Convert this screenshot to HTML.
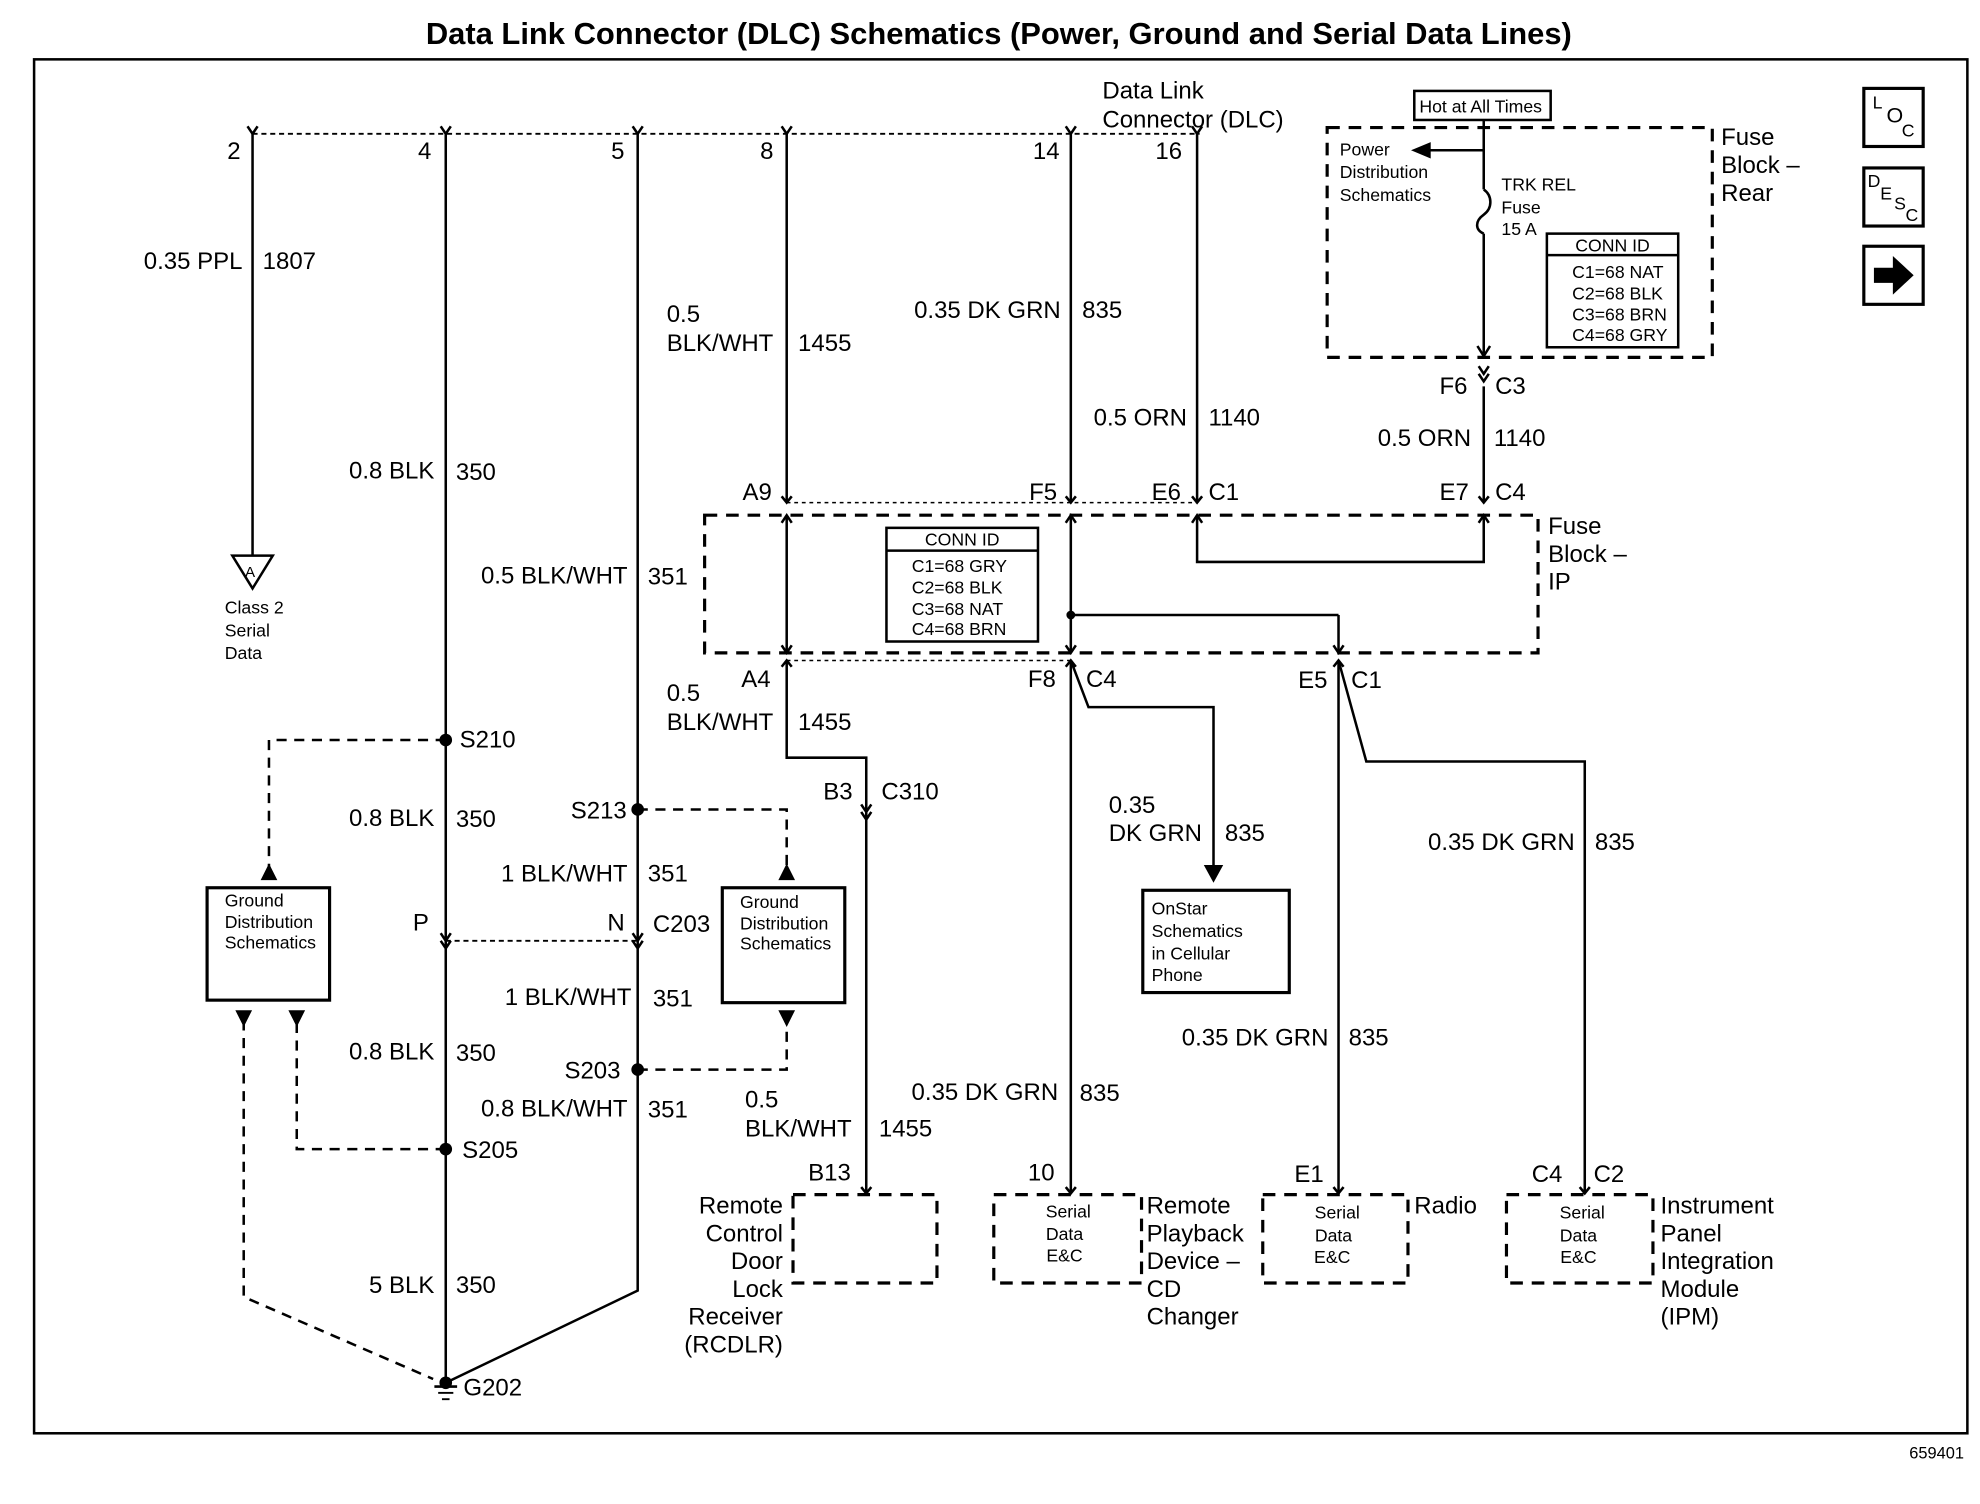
<!DOCTYPE html>
<html><head><meta charset="utf-8"><style>
html,body{margin:0;padding:0;background:#fff}
svg{display:block}
text{font-family:"Liberation Sans",Arial,sans-serif;fill:#000}
.l{font-size:19px}
.s{font-size:13px}
.m{font-size:14px}
</style></head><body>
<svg width="1980" height="1504" viewBox="0 0 1568 1191" preserveAspectRatio="none" xmlns="http://www.w3.org/2000/svg">
<g stroke="#000" fill="none" stroke-width="2">
<rect x="27" y="47" width="1531" height="1088" stroke-width="2"/>
<line x1="200" y1="106" x2="950" y2="106" stroke-dasharray="4,3" stroke-width="1.5"/>
<path d="M196 100 L200 106 L204 100 M349 100 L353 106 L357 100 M501 100 L505 106 L509 100 M619 100 L623 106 L627 100 M844 100 L848 106 L852 100 M944 100 L948 106 L952 100"/>
<line x1="200" y1="106" x2="200" y2="440"/>
<path d="M184 440 L216 440 L200 466 Z"/>
<line x1="353" y1="106" x2="353" y2="1095"/>
<polyline points="505,106 505,1022 353,1095"/>
<line x1="353" y1="745" x2="505" y2="745" stroke-dasharray="4,3" stroke-width="1.5"/>
<path d="M349 739 L353 745 L357 739 M349 745 L353 751 L357 745 M501 739 L505 745 L509 739 M501 745 L505 751 L509 745"/>
<line x1="623" y1="106" x2="623" y2="398"/>
<line x1="623" y1="408" x2="623" y2="517"/>
<path d="M619 414 L623 408 L627 414 M619 511 L623 517 L627 511"/>
<polyline points="623,523 623,600 686,600 686,945"/>
<path d="M682 637 L686 643 L690 637 M682 643 L686 649 L690 643"/>
<path d="M619 528 L623 523 L627 528"/>
<line x1="623" y1="398" x2="948" y2="398" stroke-dasharray="3,3" stroke-width="1.2"/>
<line x1="623" y1="523" x2="848" y2="523" stroke-dasharray="3,3" stroke-width="1.2"/>
<path d="M619 393 L623 398 L627 393 M844 393 L848 398 L852 393 M944 393 L948 398 L952 393 M1171 393 L1175 398 L1179 393"/>
<line x1="848" y1="106" x2="848" y2="398"/>
<line x1="848" y1="408" x2="848" y2="517"/>
<path d="M844 414 L848 408 L852 414 M844 511 L848 517 L852 511"/>
<line x1="848" y1="487" x2="1060" y2="487"/>
<line x1="1060" y1="487" x2="1060" y2="517"/>
<path d="M1056 511 L1060 517 L1064 511"/>
<circle cx="848" cy="487" r="2.5" fill="#000"/>
<path d="M844 528 L848 523 L852 528 M1056 528 L1060 523 L1064 528"/>
<line x1="848" y1="523" x2="848" y2="945"/>
<polyline points="848,523 862,560 961,560 961,690"/>
<path d="M955 686 L961 697 L967 686 Z" fill="#000"/>
<line x1="1060" y1="523" x2="1060" y2="945"/>
<polyline points="1060,523 1082,603 1255,603 1255,945"/>
<line x1="948" y1="106" x2="948" y2="398"/>
<polyline points="944,414 948,408 952,414"/>
<polyline points="948,408 948,445 1175,445 1175,408"/>
<polyline points="1171,414 1175,408 1179,414"/>
<line x1="1175" y1="306" x2="1175" y2="398"/>
<path d="M1171 290 L1175 296 L1179 290 M1171 296 L1175 302 L1179 296"/>
<rect x="558" y="408" width="660" height="109" stroke-dasharray="10,7" stroke-width="2.5"/>
<rect x="702" y="418" width="120" height="90"/>
<line x1="702" y1="436" x2="822" y2="436"/>
<rect x="1051" y="101" width="305" height="182" stroke-dasharray="10,7" stroke-width="2.5"/>
<rect x="1120" y="72" width="108" height="23"/>
<polyline points="1175,95 1175,150"/>
<line x1="1175" y1="119" x2="1128" y2="119"/>
<path d="M1120 119 L1132 114 L1132 124 Z" fill="#000"/>
<path d="M1175 150 C1182 155 1182 165 1175 170 C1168 175 1168 182 1175 185"/>
<line x1="1175" y1="185" x2="1175" y2="280"/>
<path d="M1170 274 L1175 282 L1180 274"/>
<rect x="1225" y="185" width="104" height="90"/>
<line x1="1225" y1="202" x2="1329" y2="202"/>
<rect x="1476" y="70" width="47" height="46" stroke-width="2.5"/>
<rect x="1476" y="133" width="47" height="46" stroke-width="2.5"/>
<rect x="1476" y="195" width="47" height="46" stroke-width="2.5"/>
<path d="M1485 213 L1500 213 L1500 205 L1514 218 L1500 231 L1500 223 L1485 223 Z" fill="#000"/>
<polyline points="353,586 213,586 213,690" stroke-dasharray="8,6"/>
<path d="M208 696 L213 686 L218 696 Z" fill="#000"/>
<polyline points="505,641 623,641 623,690" stroke-dasharray="8,6"/>
<path d="M618 696 L623 686 L628 696 Z" fill="#000"/>
<polyline points="505,847 623,847 623,805" stroke-dasharray="8,6"/>
<path d="M618 801 L623 811 L628 801 Z" fill="#000"/>
<polyline points="353,910 235,910 235,808" stroke-dasharray="8,6"/>
<path d="M230 801 L235 811 L240 801 Z" fill="#000"/>
<polyline points="193,808 193,1027 343,1092" stroke-dasharray="8,6"/>
<path d="M188 801 L193 811 L198 801 Z" fill="#000"/>
<rect x="164" y="703" width="97" height="89" stroke-width="2.5"/>
<rect x="572" y="703" width="97" height="91" stroke-width="2.5"/>
<rect x="905" y="705" width="116" height="81" stroke-width="2.5"/>
<line x1="344" y1="1098" x2="362" y2="1098"/>
<line x1="347" y1="1103" x2="359" y2="1103" stroke-width="1.5"/>
<line x1="350" y1="1108" x2="356" y2="1108" stroke-width="1.5"/>
<rect x="628" y="946" width="114" height="70" stroke-dasharray="10,7" stroke-width="2.5"/>
<rect x="787" y="946" width="117" height="70" stroke-dasharray="10,7" stroke-width="2.5"/>
<rect x="1000" y="946" width="115" height="70" stroke-dasharray="10,7" stroke-width="2.5"/>
<rect x="1193" y="946" width="116" height="70" stroke-dasharray="10,7" stroke-width="2.5"/>
<path d="M682 940 L686 945 L690 940 M844 940 L848 945 L852 940 M1056 940 L1060 945 L1064 940 M1251 940 L1255 945 L1259 940"/>
</g>
<g fill="#000">
<circle cx="353" cy="586" r="5"/><circle cx="505" cy="641" r="5"/>
<circle cx="505" cy="847" r="5"/><circle cx="353" cy="910" r="5"/>
<circle cx="353" cy="1095" r="5"/>
</g>
<text x="791" y="35" text-anchor="middle" style="font-size:24.5px;font-weight:bold">Data Link Connector (DLC) Schematics (Power, Ground and Serial Data Lines)</text>
<text x="1512" y="1155" class="s">659401</text>
<g class="l">
<text x="873" y="78">Data Link</text><text x="873" y="101">Connector (DLC)</text>
<text x="180" y="126">2</text><text x="331" y="126">4</text><text x="484" y="126">5</text>
<text x="602" y="126">8</text><text x="818" y="126">14</text><text x="915" y="126">16</text>
<text x="192" y="213" text-anchor="end">0.35 PPL</text><text x="208" y="213">1807</text>
<text x="344" y="379" text-anchor="end">0.8 BLK</text><text x="361" y="380">350</text>
<text x="344" y="654" text-anchor="end">0.8 BLK</text><text x="361" y="655">350</text>
<text x="344" y="839" text-anchor="end">0.8 BLK</text><text x="361" y="840">350</text>
<text x="344" y="1024" text-anchor="end">5 BLK</text><text x="361" y="1024">350</text>
<text x="497" y="462" text-anchor="end">0.5 BLK/WHT</text><text x="513" y="463">351</text>
<text x="497" y="698" text-anchor="end">1 BLK/WHT</text><text x="513" y="698">351</text>
<text x="500" y="796" text-anchor="end">1 BLK/WHT</text><text x="517" y="797">351</text>
<text x="497" y="884" text-anchor="end">0.8 BLK/WHT</text><text x="513" y="885">351</text>
<text x="364" y="592">S210</text><text x="452" y="648">S213</text>
<text x="447" y="854">S203</text><text x="366" y="917">S205</text>
<text x="367" y="1105">G202</text>
<text x="327" y="737">P</text><text x="481" y="737">N</text><text x="517" y="738">C203</text>
<text x="528" y="255">0.5</text><text x="528" y="278">BLK/WHT</text><text x="632" y="278">1455</text>
<text x="528" y="555">0.5</text><text x="528" y="578">BLK/WHT</text><text x="632" y="578">1455</text>
<text x="590" y="877">0.5</text><text x="590" y="900">BLK/WHT</text><text x="696" y="900">1455</text>
<text x="840" y="252" text-anchor="end">0.35 DK GRN</text><text x="857" y="252">835</text>
<text x="940" y="337" text-anchor="end">0.5 ORN</text><text x="957" y="337">1140</text>
<text x="1165" y="353" text-anchor="end">0.5 ORN</text><text x="1183" y="353">1140</text>
<text x="1140" y="312">F6</text><text x="1184" y="312">C3</text>
<text x="588" y="396">A9</text><text x="815" y="396">F5</text><text x="912" y="396">E6</text><text x="957" y="396">C1</text>
<text x="1140" y="396">E7</text><text x="1184" y="396">C4</text>
<text x="587" y="544">A4</text><text x="814" y="544">F8</text><text x="860" y="544">C4</text>
<text x="1028" y="545">E5</text><text x="1070" y="545">C1</text>
<text x="652" y="633">B3</text><text x="698" y="633">C310</text>
<text x="878" y="644">0.35</text><text x="878" y="666">DK GRN</text><text x="970" y="666">835</text>
<text x="1247" y="673" text-anchor="end">0.35 DK GRN</text><text x="1263" y="673">835</text>
<text x="1052" y="828" text-anchor="end">0.35 DK GRN</text><text x="1068" y="828">835</text>
<text x="838" y="871" text-anchor="end">0.35 DK GRN</text><text x="855" y="872">835</text>
<text x="640" y="935">B13</text><text x="814" y="935">10</text><text x="1025" y="936">E1</text>
<text x="1213" y="936">C4</text><text x="1262" y="936">C2</text>
<text x="1363" y="115">Fuse</text><text x="1363" y="137">Block –</text><text x="1363" y="159">Rear</text>
<text x="1226" y="423">Fuse</text><text x="1226" y="445">Block –</text><text x="1226" y="467">IP</text>
<text x="620" y="961" text-anchor="end">Remote</text><text x="620" y="983" text-anchor="end">Control</text>
<text x="620" y="1005" text-anchor="end">Door</text><text x="620" y="1027" text-anchor="end">Lock</text>
<text x="620" y="1049" text-anchor="end">Receiver</text><text x="620" y="1071" text-anchor="end">(RCDLR)</text>
<text x="908" y="961">Remote</text><text x="908" y="983">Playback</text><text x="908" y="1005">Device –</text>
<text x="908" y="1027">CD</text><text x="908" y="1049">Changer</text>
<text x="1120" y="961">Radio</text>
<text x="1315" y="961">Instrument</text><text x="1315" y="983">Panel</text>
<text x="1315" y="1005">Integration</text><text x="1315" y="1027">Module</text><text x="1315" y="1049">(IPM)</text>
</g>
<g class="m">
<text x="194" y="457" style="font-size:12px">A</text>
<text x="178" y="486">Class 2</text><text x="178" y="504">Serial</text><text x="178" y="522">Data</text>
<text x="178" y="718">Ground</text><text x="178" y="735">Distribution</text><text x="178" y="751">Schematics</text>
<text x="586" y="719">Ground</text><text x="586" y="736">Distribution</text><text x="586" y="752">Schematics</text>
<text x="912" y="724">OnStar</text><text x="912" y="742">Schematics</text><text x="912" y="760">in Cellular</text><text x="912" y="777">Phone</text>
<text x="1124" y="89">Hot at All Times</text>
<text x="1061" y="123">Power</text><text x="1061" y="141">Distribution</text><text x="1061" y="159">Schematics</text>
<text x="1189" y="151">TRK REL</text><text x="1189" y="169">Fuse</text><text x="1189" y="186">15 A</text>
<text x="1277" y="199" text-anchor="middle">CONN ID</text>
<text x="1245" y="220">C1=68 NAT</text><text x="1245" y="237">C2=68 BLK</text>
<text x="1245" y="254">C3=68 BRN</text><text x="1245" y="270">C4=68 GRY</text>
<text x="762" y="432" text-anchor="middle">CONN ID</text>
<text x="722" y="453">C1=68 GRY</text><text x="722" y="470">C2=68 BLK</text>
<text x="722" y="487">C3=68 NAT</text><text x="722" y="503">C4=68 BRN</text>
<text x="846" y="964" text-anchor="middle">Serial</text><text x="843" y="982" text-anchor="middle">Data</text><text x="843" y="999" text-anchor="middle">E&amp;C</text>
<text x="1059" y="965" text-anchor="middle">Serial</text><text x="1056" y="983" text-anchor="middle">Data</text><text x="1055" y="1000" text-anchor="middle">E&amp;C</text>
<text x="1253" y="965" text-anchor="middle">Serial</text><text x="1250" y="983" text-anchor="middle">Data</text><text x="1250" y="1000" text-anchor="middle">E&amp;C</text>
<text x="1483" y="86">L</text><text x="1494" y="97" style="font-size:17px">O</text><text x="1506" y="108">C</text>
<text x="1479" y="148">D</text><text x="1489" y="158">E</text><text x="1500" y="166">S</text><text x="1509" y="175">C</text>
</g>
</svg>
</body></html>
